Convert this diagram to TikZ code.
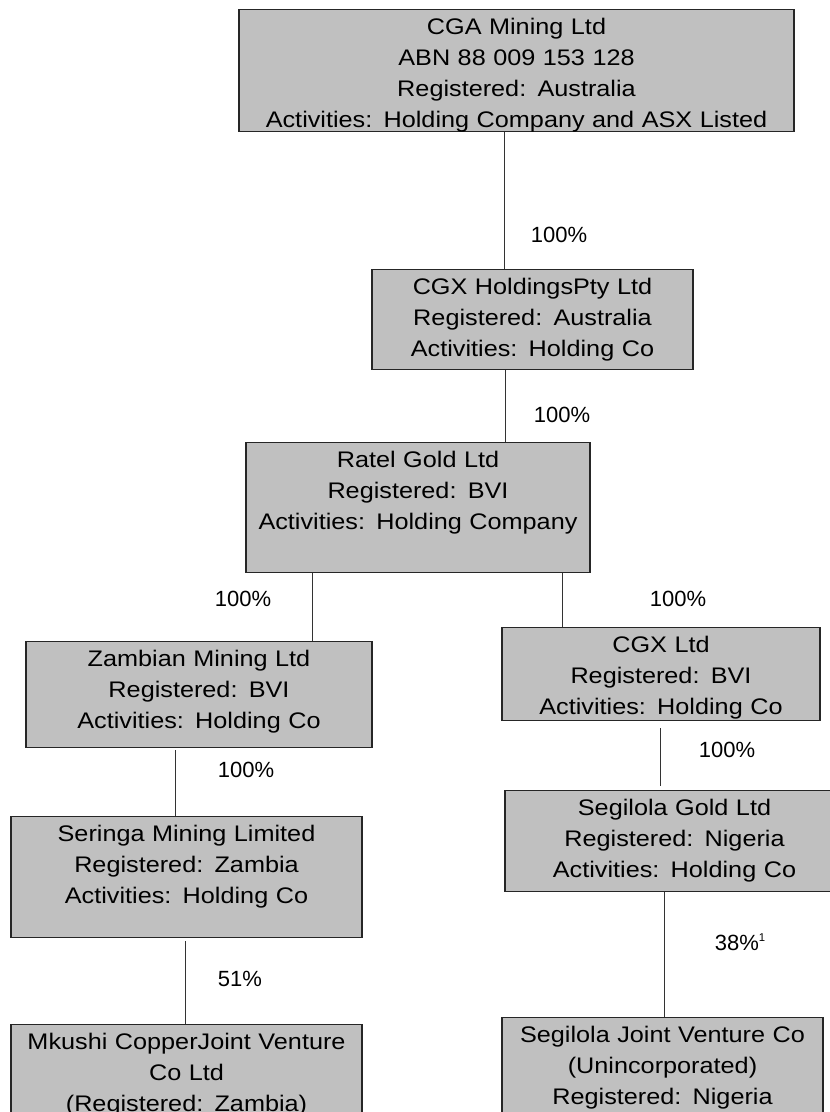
\documentclass[tikz,border=0pt]{standalone}
\usepackage{fontspec}
\setmainfont{Liberation Sans}
\newfontfamily\boxfont[FakeStretch=1.12]{Liberation Sans}
\usepackage{tikz}
\definecolor{boxgray}{HTML}{C0C0C0}
\definecolor{linegray}{HTML}{333333}
\newlength\px
\setlength\px{0.75pt}

\begin{document}
\begin{tikzpicture}[
  x=0.75pt, y=-0.75pt,
  firm/.style = {draw=black!85, fill=boxgray, rectangle, anchor=north,
                 align=center, inner sep=0pt, line width=1.2\px,
                 font=\boxfont\fontsize{16.9pt}{23.25pt}\selectfont,
                 text height=25\px},
  link/.style = {draw=linegray, line width=1\px},
  pct/.style  = {font=\fontsize{16.5pt}{20pt}\selectfont, inner sep=0pt},
]
\useasboundingbox (0,0) rectangle (830,1112);
\node[firm, text width=555\px, text depth=97\px] (cga) at (516.5,9)
  {CGA Mining Ltd\\ABN 88 009 153 128\\Registered: Australia\\Activities: Holding Company and ASX Listed};
\node[firm, text width=321\px, text depth=75\px] (cgxh) at (532.5,269)
  {CGX HoldingsPty Ltd\\Registered: Australia\\Activities: Holding Co};
\node[firm, text width=344\px, text depth=105\px] (ratel) at (418,442)
  {Ratel Gold Ltd\\Registered: BVI\\Activities: Holding Company};
\node[firm, text width=346\px, text depth=81\px] (zam) at (199,641)
  {Zambian Mining Ltd\\Registered: BVI\\Activities: Holding Co};
\node[firm, text width=318\px, text depth=68\px] (cgx) at (661,627)
  {CGX Ltd\\Registered: BVI\\Activities: Holding Co};
\node[firm, text width=351\px, text depth=96\px] (ser) at (186.5,816)
  {Seringa Mining Limited\\Registered: Zambia\\Activities: Holding Co};
\node[firm, text width=339\px, text depth=76\px] (seg) at (674.5,790)
  {Segilola Gold Ltd\\Registered: Nigeria\\Activities: Holding Co};
\node[firm, text width=351\px, text depth=100\px] (mku) at (186.5,1024)
  {Mkushi CopperJoint Venture\\Co Ltd\\(Registered: Zambia)};
\node[firm, text width=321\px, text depth=110\px] (jv) at (662.5,1017)
  {Segilola Joint Venture Co\\(Unincorporated)\\Registered: Nigeria};
\draw[link] (cga.south -| 504,0) -- (cgxh.north -| 504,0);
\draw[link] (cgxh.south -| 505,0) -- (ratel.north -| 505,0);
\draw[link] (ratel.south -| 312,0) -- (zam.north -| 312,0);
\draw[link] (ratel.south -| 562,0) -- (cgx.north -| 562,0);
\draw[link, shorten <=2\px] (zam.south -| 175,0) -- (ser.north -| 175,0);
\draw[link, shorten <=7\px, shorten >=4\px] (cgx.south -| 660,0) -- (seg.north -| 660,0);
\draw[link, shorten <=3\px] (ser.south -| 185,0) -- (mku.north -| 185,0);
\draw[link] (seg.south -| 664,0) -- (jv.north -| 664,0);
\node[pct] (p1) at (559,235) {100\%};
\node[pct] (p2) at (562,415) {100\%};
\node[pct] (p3) at (243,599) {100\%};
\node[pct] (p4) at (678,599) {100\%};
\node[pct] (p5) at (246,770) {100\%};
\node[pct] (p6) at (727,750) {100\%};
\node[pct] (p7) at (240,979) {51\%};
\node[pct] (p8) at (740,942) {38\%\raisebox{7pt}{\fontsize{8.5pt}{10pt}\selectfont 1}};
\end{tikzpicture}
\end{document}
